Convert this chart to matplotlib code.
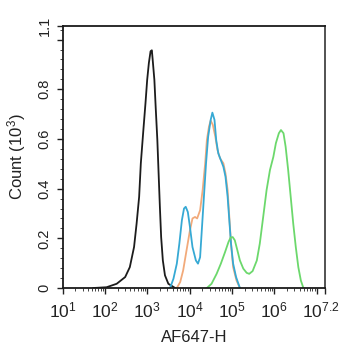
import matplotlib
matplotlib.use("Agg")
import matplotlib.pyplot as plt
import matplotlib.transforms as mtransforms
import numpy as np
from matplotlib.ticker import FixedLocator, LogLocator, NullFormatter

plt.rcParams['font.family'] = ['Liberation Sans', 'DejaVu Sans']
plt.rcParams['mathtext.fontset'] = 'custom'
plt.rcParams['mathtext.rm'] = 'Liberation Sans'
plt.rcParams['mathtext.it'] = 'Liberation Sans'
plt.rcParams['mathtext.default'] = 'regular'

# Histogram traces: log10(AF647-H) channel and count (x10^3)
black_log = [1.73, 2.04, 2.28, 2.48, 2.59, 2.69, 2.75, 2.81, 2.85, 2.91, 2.96, 3.00,
             3.04, 3.08, 3.11, 3.13, 3.17, 3.20, 3.24, 3.27, 3.30, 3.33, 3.37, 3.42,
             3.50, 3.66]
black_cnt = [0.0, 0.003, 0.017, 0.044, 0.084, 0.165, 0.259, 0.367, 0.502, 0.636, 0.744, 0.838,
             0.906, 0.953, 0.957, 0.919, 0.838, 0.731, 0.596, 0.461, 0.327, 0.205, 0.111, 0.051,
             0.017, 0.0]

blue_log = [3.54, 3.62, 3.70, 3.76, 3.82, 3.87, 3.91, 3.96, 4.01, 4.07, 4.15, 4.20, 4.25,
            4.29, 4.34, 4.39, 4.44, 4.50, 4.54, 4.59, 4.63, 4.68, 4.74, 4.80, 4.85, 4.90,
            4.94, 4.98, 5.03, 5.10, 5.19]
blue_cnt = [0.0, 0.037, 0.098, 0.179, 0.273, 0.32, 0.327, 0.306, 0.246, 0.165, 0.111, 0.098, 0.124,
            0.232, 0.367, 0.502, 0.609, 0.677, 0.706, 0.677, 0.596, 0.542, 0.515, 0.488, 0.448, 0.367,
            0.273, 0.179, 0.098, 0.044, 0.0]

orange_log = [3.70, 3.78, 3.85, 3.93, 4.01, 4.07, 4.13, 4.18, 4.25, 4.31, 4.37, 4.41, 4.46,
              4.50, 4.55, 4.61, 4.66, 4.72, 4.80, 4.85, 4.90, 4.94, 4.98, 5.03, 5.11, 5.19]
orange_cnt = [0.0, 0.024, 0.071, 0.152, 0.232, 0.28, 0.286, 0.28, 0.313, 0.394, 0.502, 0.596, 0.65,
              0.674, 0.657, 0.609, 0.556, 0.522, 0.502, 0.461, 0.394, 0.286, 0.179, 0.084, 0.03, 0.0]

green_log = [4.41, 4.52, 4.64, 4.74, 4.84, 4.92, 4.97, 5.02, 5.07, 5.13, 5.19, 5.27, 5.35,
             5.41, 5.49, 5.59, 5.66, 5.74, 5.82, 5.90, 5.98, 6.04, 6.11, 6.16, 6.22, 6.27,
             6.33, 6.39, 6.45, 6.51, 6.57, 6.63, 6.69]
green_cnt = [0.0, 0.017, 0.057, 0.098, 0.145, 0.185, 0.203, 0.205, 0.192, 0.152, 0.111, 0.078, 0.061,
             0.057, 0.068, 0.111, 0.179, 0.286, 0.394, 0.475, 0.528, 0.583, 0.623, 0.636, 0.623, 0.569,
             0.475, 0.367, 0.259, 0.165, 0.084, 0.03, 0.0]

y_ticks = [0, 0.2, 0.4, 0.6, 0.8, 1.0]
y_labels = ["0", "0.2", "0.4", "0.6", "0.8", ""]
y_top = 1.056
y_top_label = "1.1"
x_exponents = [1, 2, 3, 4, 5, 6, 7, 7.2]
x_labels = ["$10^{1}$", "$10^{2}$", "$10^{3}$", "$10^{4}$", "$10^{5}$", "$10^{6}$", "", "$10^{7.2}$"]

fig = plt.figure(figsize=(3.42, 3.50), dpi=100)
ax = fig.add_axes([62.5 / 342, 1 - 288 / 350, (325 - 62.5) / 342, (288 - 25.7) / 350])

series = [
    (black_log, black_cnt, "#1c1c1c"),
    (orange_log, orange_cnt, "#f2aa7a"),
    (blue_log, blue_cnt, "#36a9d4"),
    (green_log, green_cnt, "#6cd86c"),
]
for lx, cnt, col in series:
    ax.plot(10 ** np.asarray(lx), cnt, color=col, lw=1.3, solid_joinstyle='round')

ax.set_xscale('log')
ax.set_xlim(10 ** 1, 10 ** 7.2)
ax.set_ylim(0, y_top)

ax.xaxis.set_major_locator(FixedLocator([10 ** e for e in x_exponents]))
ax.set_xticklabels(x_labels)
ax.xaxis.set_minor_locator(LogLocator(base=10, subs=np.arange(2, 10), numticks=20))
ax.xaxis.set_minor_formatter(NullFormatter())

ax.set_yticks(y_ticks + [y_top])
ax.set_yticklabels(y_labels + [y_top_label], rotation=90, va='center')
ax.yaxis.set_minor_locator(FixedLocator(np.arange(0, 1.06, 0.04)))

ax.tick_params(axis='both', which='major', direction='out', length=4, width=1.0, color='#222222')
ax.tick_params(axis='both', which='minor', direction='out', length=2.2, width=0.7, color='#444444')
ax.tick_params(axis='x', which='major', labelsize=12.5, pad=5, labelcolor='#222222')
ax.tick_params(axis='y', which='major', labelsize=10.5, pad=4, labelcolor='#222222')

# keep the last x label inside the canvas
last = ax.get_xticklabels()[-1]
last.set_transform(last.get_transform() +
                   mtransforms.ScaledTranslation(-4 / 100, 0, fig.dpi_scale_trans))

for side in ['left', 'bottom', 'top', 'right']:
    ax.spines[side].set_linewidth(1.3)
    ax.spines[side].set_color('#1a1a1a')
ax.spines['right'].set_color('#444444')

ax.set_xlabel("AF647-H", fontsize=12, labelpad=7, color='#222222')
ax.set_ylabel("Count (10$^{3}$)", fontsize=12, labelpad=7, color='#222222')

fig.savefig("out.png", dpi=100)
